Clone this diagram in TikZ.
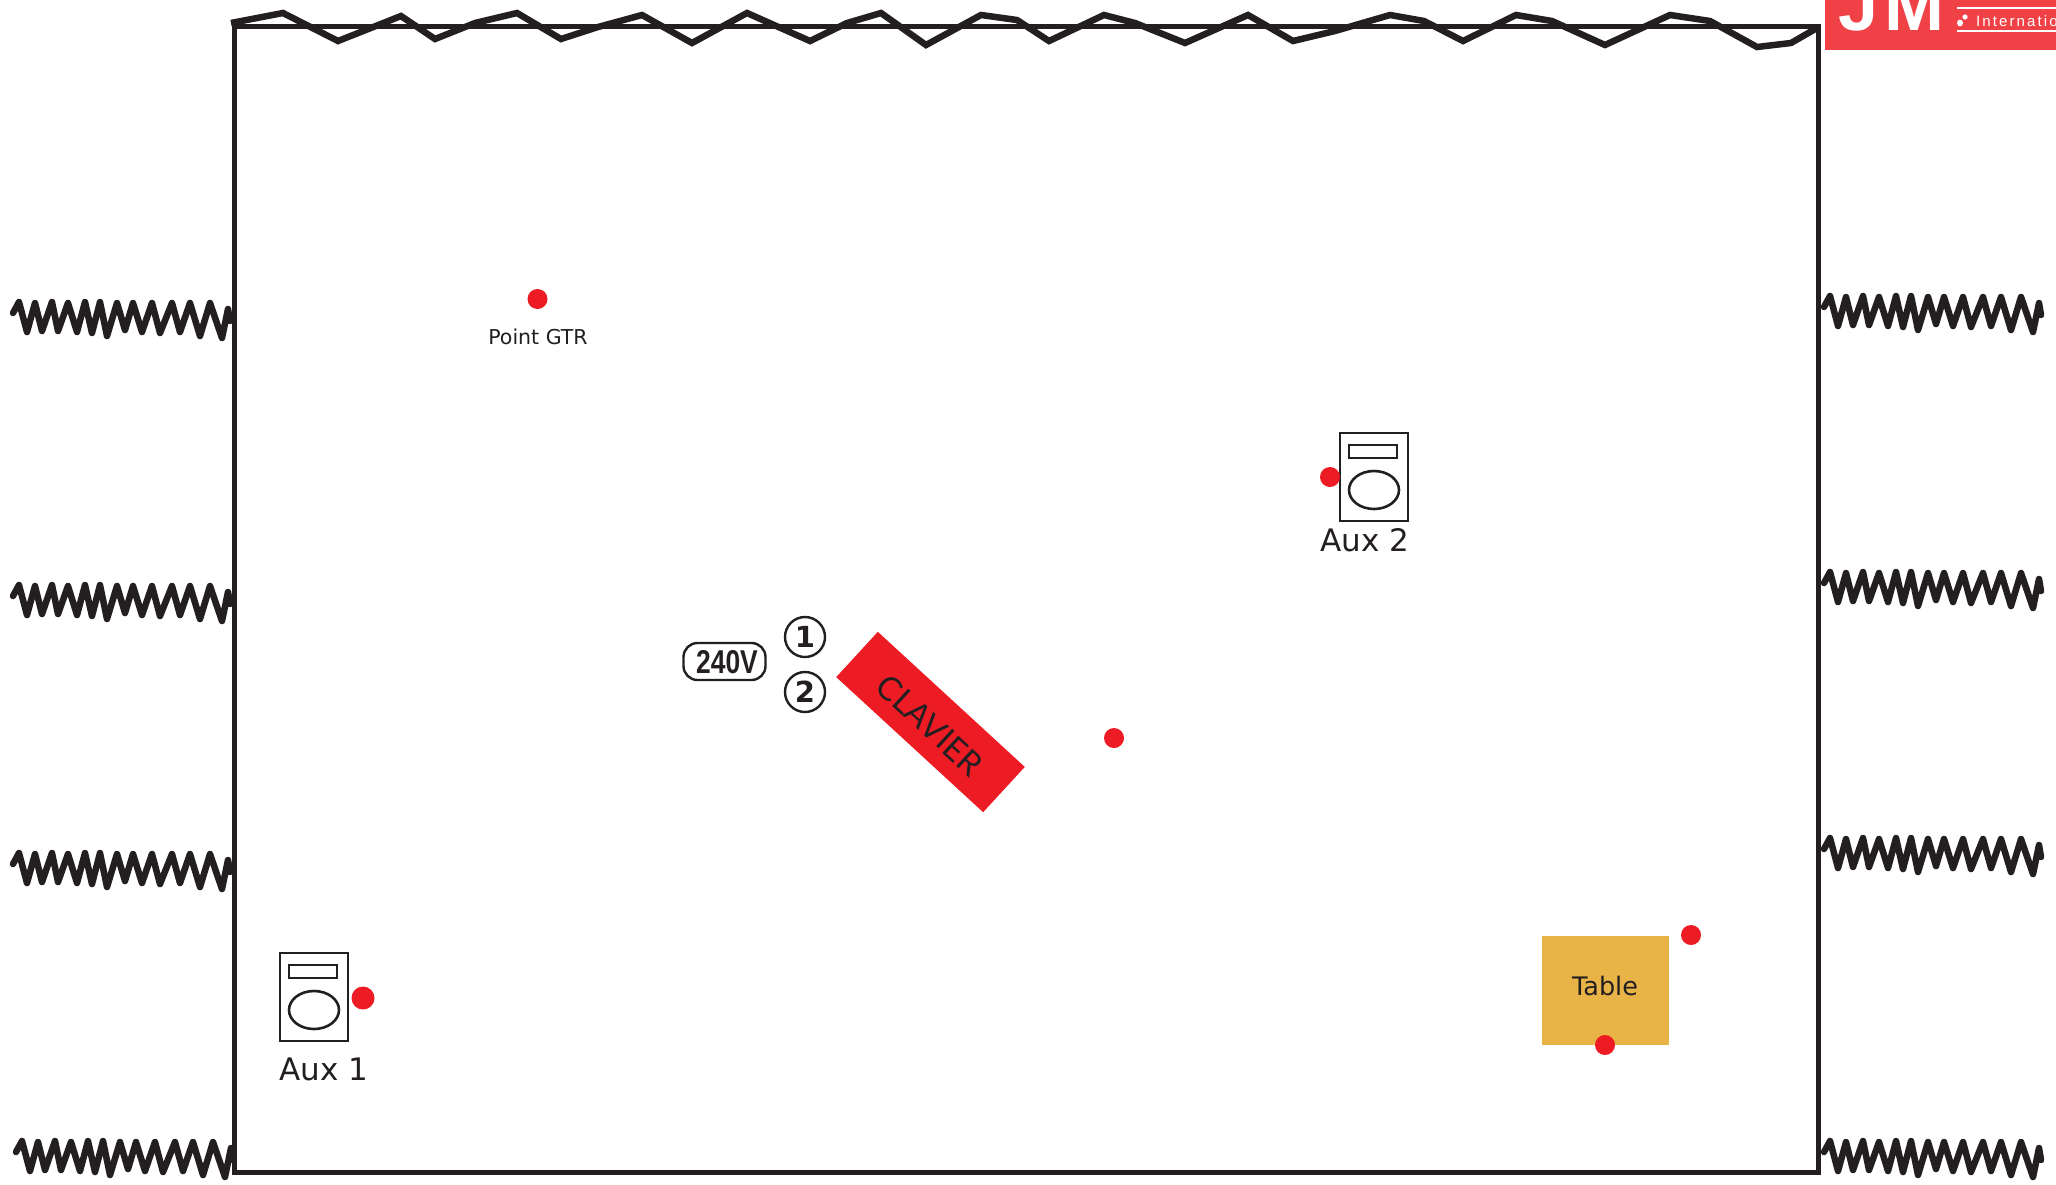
\documentclass[tikz,border=0pt]{standalone}
\usepackage{fontspec}
\setmainfont{DejaVu Sans}
\newfontfamily\arialf{Liberation Sans}
\newfontfamily\latof{Lato}
\definecolor{ink}{HTML}{231F20}
\definecolor{redd}{HTML}{ED1C24}
\definecolor{logored}{HTML}{F04146}
\definecolor{tablec}{HTML}{E9B447}
\newcommand{\fsz}[1]{\fontsize{#1pt}{#1pt}\selectfont}
\tikzset{
  reddot/.style={circle,fill=redd,draw=none,inner sep=0pt,minimum size=20pt},
  frameline/.style={draw=ink,line width=5pt,line join=miter},
  zigline/.style={draw=ink,line width=6.5pt,line join=miter,miter limit=6},
  springline/.style={draw=ink,line width=6.5pt,line join=round,line cap=round},
  spkline/.style={draw=ink,line width=2.6pt},
  lab/.style={text=ink,inner sep=0pt,align=center},
  numcirc/.style={circle,draw=ink,line width=2.4pt,fill=white,minimum size=40pt,inner sep=0pt,text=ink,font=\bfseries\fsz{29}},
  pics/spring/.style={code={
    \draw[springline] (13,-4)--(19,-15)--(27,15)--(35,-14)--(42,14)--(52,-15)--(58,14)--(68,-14)--(77,15)--(85,-15)--(92,16)--(100,-15)--(107,19)--(117,-14)--(125,13)--(133,-14)--(142,15)--(152,-14)--(160,16)--(172,-14)--(180,15)--(190,-14)--(200,19)--(210,-14)--(222,21)--(228,-8)--(230,4);
  }},
  pics/speaker/.style={code={
    \draw[spkline] (0,0) rectangle (68,88);
    \draw[spkline] (9,12) rectangle (57,25);
    \draw[spkline] (34,57) ellipse (25 and 19);
  }}
}
\begin{document}
\begin{tikzpicture}[x=1pt,y=-1pt]
\useasboundingbox (0,0) rectangle (2056,1184);
\fill[white] (0,0) rectangle (2056,1184);
% logo
\begin{scope}
\clip (1825,0) rectangle (2056,50);
\fill[logored] (1825,0) rectangle (2056,50);
\node[anchor=base west,inner sep=0pt,text=white,font=\arialf\bfseries\fsz{72}] (logoJ) at (1838,30) {J};
\node[anchor=base west,inner sep=0pt,text=white,font=\arialf\bfseries\fsz{72}] (logoM) at (1884,30) {M};
\fill[white] (1957,6.5) rectangle (2056,8.5);
\fill[white] (1957,30) rectangle (2056,32);
\fill[white] (1960,23) ellipse (3 and 3.4);
\fill[white] (1965,17) ellipse (2.6 and 2.6);
\node[anchor=base west,inner sep=0pt,text=white,font=\arialf\fsz{15}] (logoT) at (1976,26) {\addfontfeature{LetterSpace=14}International};
\end{scope}
% frame
\draw[frameline] (234,26) -- (1818,26) -- (1818,1172.5) -- (234,1172.5) -- cycle;
% top zigzag
\draw[zigline] (231,23)--(283,13)--(338,41)--(401,16)--(435,39)--(475,23)--(517,13)--(561,39)--(598,27)--(642,15)--(692,43)--(747,13)--(810,41)--(847,23)--(881,13)--(926,45)--(981,15)--(1017,20)--(1049,41)--(1104,15)--(1135,23)--(1185,43)--(1248,15)--(1293,41)--(1335,31)--(1390,15)--(1424,21)--(1463,41)--(1516,15)--(1552,21)--(1605,45)--(1670,15)--(1710,21)--(1757,47)--(1791,43)--(1817,28);
% springs
\foreach \yy in {317,600,868}{\pic at (0,\yy) {spring};}
\pic at (3,1156) {spring};
\foreach \yy in {311,587,853,1156}{\pic at (1811,\yy) {spring};}
% speakers
\pic at (280,953) {speaker};
\pic at (1340,433) {speaker};
\node[lab,font=\fsz{31}] (aux1) at (324,1069) {Aux 1};
\node[lab,font=\fsz{31}] (aux2) at (1365,540) {Aux 2};
\node[lab,font=\fsz{20.5}] (gtr) at (538,337) {Point GTR};
% table
\node[fill=tablec,minimum width=127pt,minimum height=109pt,inner sep=0pt,text=ink,font=\fsz{25.5}] (table) at (1605.5,990.5) {};
\node[lab,font=\fsz{25.5}] (tablet) at (1605,986) {Table};
% clavier
\node[fill=redd,rotate=-42.6,minimum width=199.6pt,minimum height=61.5pt,inner sep=0pt] (clav) at (930.5,722) {};
\node[lab,rotate=-42.6,font=\latof\fsz{33}] (clavt) at (930,725) {CLAVIER};
% 240V
\node[draw=ink,line width=2.4pt,rounded corners=14pt,minimum width=82pt,minimum height=37pt,inner sep=0pt] (pill) at (724.5,661.5) {};
\node[lab] (v240) at (727,662) {\arialf\bfseries\fsz{33}\pgfmathsetmacro\dummy{0}\scalebox{0.8}[1]{240V}};
\node[numcirc] (n1) at (805,637) {1};
\node[numcirc] (n2) at (805,692) {2};
% red dots
\node[reddot] (d1) at (537.5,299) {};
\node[reddot] (d2) at (1330,477) {};
\node[reddot] (d3) at (1114,738) {};
\node[reddot,minimum size=23pt] (d4) at (363,998) {};
\node[reddot] (d5) at (1691,935) {};
\node[reddot] (d6) at (1605,1045) {};
\end{tikzpicture}
\end{document}
